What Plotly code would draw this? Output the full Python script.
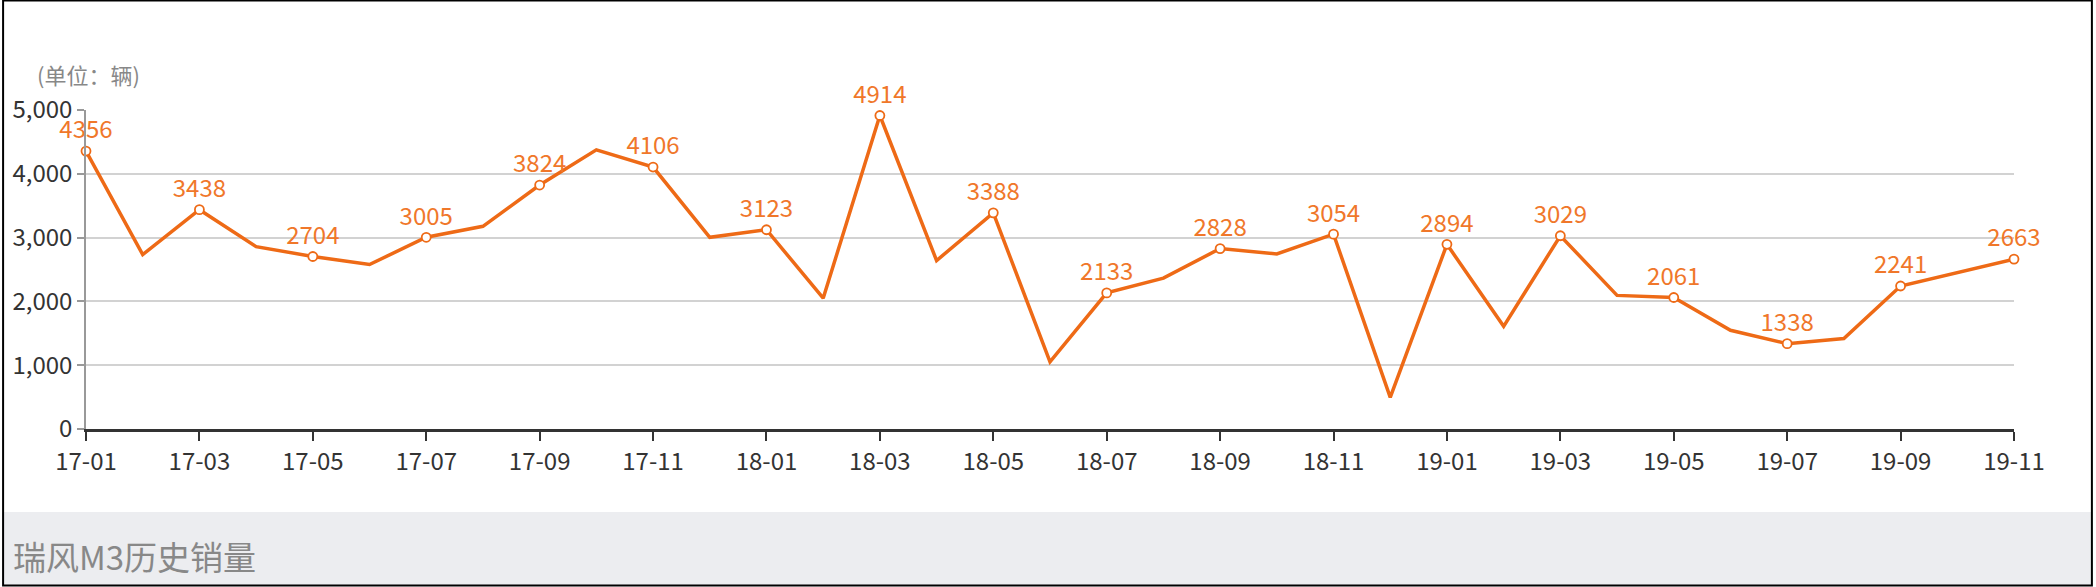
import plotly.graph_objects as go

# monthly sales (units), 2017-01 .. 2019-11
months = [
    "17-01", "17-02", "17-03", "17-04", "17-05", "17-06", "17-07", "17-08", "17-09", "17-10", "17-11", "17-12",
    "18-01", "18-02", "18-03", "18-04", "18-05", "18-06", "18-07", "18-08", "18-09", "18-10", "18-11", "18-12",
    "19-01", "19-02", "19-03", "19-04", "19-05", "19-06", "19-07", "19-08", "19-09", "19-10", "19-11",
]
sales = [
    4356, 2734, 3438, 2859, 2704, 2578, 3005, 3177, 3824, 4375, 4106, 3005,
    3123, 2050, 4914, 2640, 3388, 1052, 2133, 2365, 2828, 2745, 3054, 495,
    2894, 1609, 3029, 2094, 2061, 1547, 1338, 1417, 2241, 2450, 2663,
]
y_ticks = [0, 1000, 2000, 3000, 4000, 5000]
unit_label = "(单位：辆)"
chart_title = "瑞风M3历史销量"

# only every other month gets a marker + label
label_months = months[::2]
label_sales = sales[::2]

ORANGE = "#EE6A16"
FONT = "Noto Sans CJK SC"

fig = go.Figure()
fig.add_trace(go.Scatter(
    x=months, y=sales, mode="lines",
    line=dict(color=ORANGE, width=3.5),
    hoverinfo="skip", showlegend=False,
))
fig.add_trace(go.Scatter(
    x=label_months, y=label_sales, mode="markers+text",
    text=[str(v) for v in label_sales],
    textposition="top center",
    textfont=dict(color="#F0772A", size=24, family=FONT),
    marker=dict(size=9, color="white", line=dict(color=ORANGE, width=1.8)),
    cliponaxis=False,
    showlegend=False,
))

fig.update_xaxes(
    type="category",
    range=[0, len(months) - 1],
    tickvals=label_months,
    ticktext=label_months,
    showline=True, linecolor="#333", linewidth=2.5,
    ticks="outside", ticklen=9, tickwidth=1.5, tickcolor="#333",
    tickfont=dict(size=24, color="#333", family=FONT),
    showgrid=False, zeroline=False,
)
fig.update_yaxes(
    range=[0, 5000],
    tickvals=y_ticks,
    tickformat=",d",
    showline=True, linecolor="#999", linewidth=1.5,
    ticks="outside", ticklen=7, tickwidth=1.5, tickcolor="#999",
    tickfont=dict(size=24, color="#333", family=FONT),
    showgrid=True, gridcolor="#d2d2d2", gridwidth=1.5,
    zeroline=False,
)

fig.update_layout(
    width=2096, height=587,
    margin=dict(l=84, r=82, t=110, b=158),
    paper_bgcolor="white", plot_bgcolor="white",
    font=dict(family=FONT),
    shapes=[
        # grey footer band
        dict(type="rect", xref="paper", yref="paper",
             x0=-0.0435, x1=1.0404, y0=-0.489, y1=-0.2602,
             fillcolor="#ECEDF0", line=dict(width=0), layer="below"),
        # outer black frame
        dict(type="rect", xref="paper", yref="paper",
             x0=-0.0430, x1=1.0404, y0=-0.4906, y1=1.3433,
             line=dict(color="black", width=2)),
    ],
    annotations=[
        dict(text=unit_label, xref="paper", yref="paper", x=-0.0264, y=1.1129,
             xanchor="left", yanchor="middle", showarrow=False,
             font=dict(size=22, color="#888", family=FONT)),
        dict(text=chart_title, xref="paper", yref="paper", x=-0.0388, y=-0.398,
             xanchor="left", yanchor="middle", showarrow=False,
             font=dict(size=33, color="#888", family=FONT)),
    ],
)

# page has a default body margin; drop it so the chart sits at 0,0
fig.write_html("out.html", config={"displayModeBar": False},
               post_script="document.body.style.margin='0';")
